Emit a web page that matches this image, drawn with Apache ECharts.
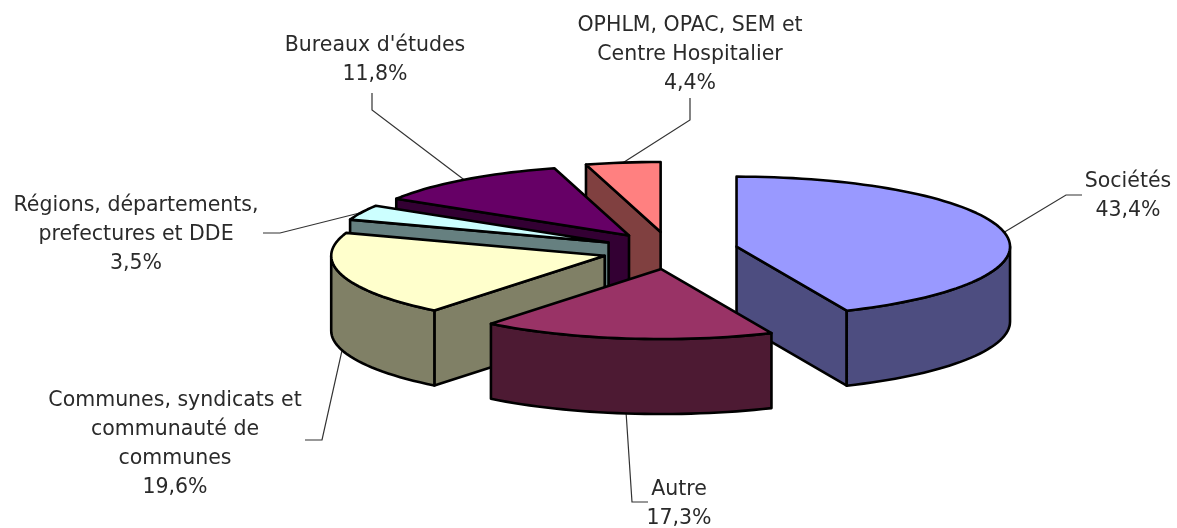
<!DOCTYPE html>
<html>
<head>
<meta charset="utf-8">
<style>
  html, body { margin: 0; padding: 0; background: #fff; }
  #chart { width: 1177px; height: 528px; }
</style>
<script src="https://cdn.jsdelivr.net/npm/echarts@6/dist/echarts.min.js"></script>
</head>
<body>
<div id="chart"></div>
<script>
// clockwise from 12 o'clock
const categories = [
  'Sociétés',
  'Autre',
  'Communes, syndicats et\ncommunauté de\ncommunes',
  'Régions, départements,\nprefectures et DDE',
  "Bureaux d'études",
  'OPHLM, OPAC, SEM et\nCentre Hospitalier'
]
const values = [43.4, 17.3, 19.6, 3.5, 11.8, 4.4]

// back to front
const drawOrder = [5, 4, 3, 2, 0, 1]

const topColors = ['#9999FF', '#993366', '#FFFFCC', '#CCFFFF', '#660066', '#FF8080']
const sideColors = ['#4D4D80', '#4D1A33', '#808066', '#668080', '#330033', '#804040']

// pie projection, in pixels
const pie = {cx: 670, cy: 250.5, rx: 273.5, ry: 70, depth: 75, explodeX: 0.2486, explodeY: 0.267}

// label block centre x, first line top y, then leader elbow and leader end
const labelLayout = [
  {x: 1128, y: 167, elbow: [1066, 195], end: [1082, 195]},
  {x: 679, y: 475, elbow: [632, 502], end: [648, 502]},
  {x: 175, y: 386, elbow: [322, 440], end: [305, 440]},
  {x: 136, y: 191, elbow: [280, 233], end: [263, 233]},
  {x: 375, y: 31, elbow: [372, 110], end: [372, 93]},
  {x: 690, y: 11, elbow: [690, 120], end: [690, 98]}
]

const total = values.reduce((a, b) => a + b, 0)
const startAngles = values.map((v, i) => values.slice(0, i).reduce((a, b) => a + b, 0) / total * 360)

const toRad = (deg) => deg * Math.PI / 180

function ellipsePoint(c, deg, dy) {
  return [c[0] + pie.rx * Math.sin(toRad(deg)), c[1] - pie.ry * Math.cos(toRad(deg)) + (dy || 0)]
}

function arcPoints(c, from, to, dy) {
  const pts = []
  const steps = Math.max(2, Math.ceil(Math.abs(to - from) / 2))
  for (let s = 0; s <= steps; s++) {
    pts.push(ellipsePoint(c, from + (to - from) * s / steps, dy))
  }
  return pts
}

function renderSlice(params, api) {
  const i = drawOrder[params.dataIndex]
  const value = api.value(0)
  const from = startAngles[i]
  const to = from + value / total * 360
  const mid = (from + to) / 2
  const c = [
    pie.cx + pie.explodeX * pie.rx * Math.sin(toRad(mid)),
    pie.cy - pie.explodeY * pie.ry * Math.cos(toRad(mid))
  ]
  const d = pie.depth
  const line = {stroke: '#000', lineWidth: 2.6, lineJoin: 'round'}
  const poly = (points, fill) => ({
    type: 'polygon',
    shape: {points: points},
    style: Object.assign({fill: fill}, line)
  })

  const children = []

  // leader line + label go behind the slice
  const front = Math.cos(toRad(mid)) < 0
  const layout = labelLayout[i]
  children.push({
    type: 'polyline',
    shape: {points: [ellipsePoint(c, mid, front ? d : 0), layout.elbow, layout.end]},
    style: {fill: null, stroke: '#333', lineWidth: 1.2}
  })
  children.push({
    type: 'text',
    x: layout.x,
    y: layout.y,
    style: {
      text: categories[i] + '\n' + value.toFixed(1).replace('.', ',') + '%',
      fill: '#2a2a2a',
      font: '20.5px "DejaVu Sans", sans-serif',
      lineHeight: 29,
      align: 'center',
      verticalAlign: 'top'
    }
  })

  // cut faces, only the ones turned towards us
  const a = ellipsePoint(c, from)
  const b = ellipsePoint(c, to)
  if (Math.sin(toRad(from)) < 0) {
    children.push(poly([c, a, [a[0], a[1] + d], [c[0], c[1] + d]], sideColors[i]))
  }
  if (Math.sin(toRad(to)) > 0) {
    children.push(poly([c, b, [b[0], b[1] + d], [c[0], c[1] + d]], sideColors[i]))
  }

  // outer wall, only the part facing us
  const wallFrom = Math.max(from, 90)
  const wallTo = Math.min(to, 270)
  if (wallTo > wallFrom) {
    const upper = arcPoints(c, wallFrom, wallTo, 0)
    const lower = arcPoints(c, wallTo, wallFrom, d)
    children.push(poly(upper.concat(lower), sideColors[i]))
  }

  // top
  children.push(poly([c].concat(arcPoints(c, from, to, 0)), topColors[i]))

  return {type: 'group', children: children}
}

const chart = echarts.init(document.getElementById('chart'))
chart.setOption({
  animation: false,
  backgroundColor: '#fff',
  series: [{
    type: 'custom',
    coordinateSystem: 'none',
    renderItem: renderSlice,
    clip: false,
    data: drawOrder.map((i) => [values[i]])
  }]
})
</script>
</body>
</html>
